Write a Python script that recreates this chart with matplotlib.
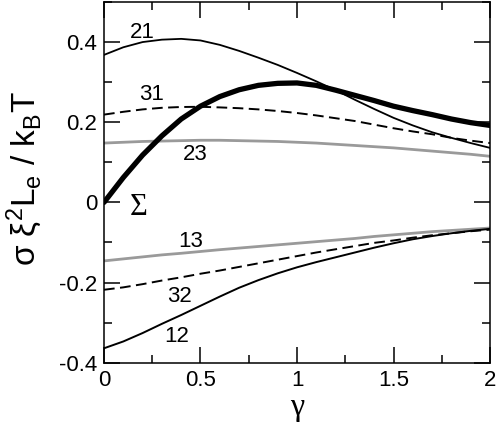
import matplotlib
matplotlib.use("Agg")
import matplotlib.pyplot as plt
from matplotlib.ticker import MultipleLocator

plt.rcParams['font.family'] = ['Liberation Sans', 'DejaVu Sans']
plt.rcParams['mathtext.fontset'] = 'custom'
plt.rcParams['mathtext.rm'] = 'Liberation Sans'
plt.rcParams['mathtext.it'] = 'Liberation Sans'

gamma = [0.0, 0.1, 0.2, 0.3, 0.4, 0.5, 0.6, 0.7, 0.8, 0.9, 1.0,
         1.1, 1.2, 1.3, 1.4, 1.5, 1.6, 1.7, 1.8, 1.9, 2.0]

s21 = [0.368, 0.387, 0.400, 0.406, 0.408, 0.404, 0.393, 0.378, 0.361, 0.343, 0.323,
       0.302, 0.280, 0.256, 0.233, 0.211, 0.192, 0.175, 0.161, 0.148, 0.136]
s31 = [0.219, 0.226, 0.232, 0.236, 0.238, 0.2385, 0.237, 0.235, 0.232, 0.228, 0.223,
       0.217, 0.210, 0.203, 0.194, 0.185, 0.177, 0.170, 0.161, 0.154, 0.148]
s23 = [0.148, 0.150, 0.152, 0.153, 0.154, 0.155, 0.155, 0.154, 0.153, 0.152, 0.150,
       0.148, 0.145, 0.142, 0.139, 0.136, 0.132, 0.128, 0.124, 0.120, 0.115]
sSigma = [0.0, 0.062, 0.118, 0.166, 0.208, 0.240, 0.264, 0.281, 0.292, 0.297, 0.298,
          0.292, 0.280, 0.267, 0.254, 0.240, 0.229, 0.219, 0.208, 0.199, 0.192]
s13 = [-0.146, -0.141, -0.136, -0.131, -0.127, -0.1225, -0.118, -0.114, -0.110, -0.106, -0.102,
       -0.098, -0.094, -0.090, -0.085, -0.081, -0.077, -0.073, -0.070, -0.067, -0.064]
s32 = [-0.218, -0.212, -0.204, -0.195, -0.187, -0.178, -0.170, -0.161, -0.152, -0.143, -0.134,
       -0.125, -0.117, -0.109, -0.101, -0.095, -0.088, -0.082, -0.077, -0.072, -0.068]
s12 = [-0.364, -0.347, -0.326, -0.303, -0.281, -0.258, -0.235, -0.213, -0.194, -0.177, -0.162,
       -0.149, -0.137, -0.125, -0.113, -0.102, -0.092, -0.084, -0.077, -0.071, -0.066]

labels = ["21", "31", "23", "13", "32", "12"]
label_x = [0.196, 0.248, 0.473, 0.45, 0.39, 0.377]
label_y = [0.423, 0.269, 0.120, -0.0975, -0.235, -0.335]

fig = plt.figure(figsize=(4.99, 4.22), dpi=100)
ax = fig.add_axes([0.2084, 0.1405, 0.7736, 0.8548])

ax.plot(gamma, s23, color='#9a9a9a', lw=2.0, solid_capstyle='butt')
ax.plot(gamma, s13, color='#9a9a9a', lw=2.0, solid_capstyle='butt')
ax.plot(gamma, s31, color='black', lw=1.4, dashes=(5.5, 2.8))
ax.plot(gamma, s32, color='black', lw=1.4, dashes=(5.5, 2.8))
ax.plot(gamma, s21, color='black', lw=1.3)
ax.plot(gamma, s12, color='black', lw=1.4)
ax.plot(gamma, sSigma, color='black', lw=3.8, solid_capstyle='round',
        solid_joinstyle='round')

for t, x, y in zip(labels, label_x, label_y):
    ax.text(x, y, t, fontsize=16, ha='center', va='center')
ax.text(0.178, -0.012, "Σ", fontsize=22, ha='center', va='center',
        family=['Liberation Serif', 'DejaVu Serif'])

ax.set_xlim(0, 2)
ax.set_ylim(-0.4, 0.5)
ax.xaxis.set_major_locator(MultipleLocator(0.5))
ax.xaxis.set_minor_locator(MultipleLocator(0.25))
ax.yaxis.set_major_locator(MultipleLocator(0.2))
ax.yaxis.set_minor_locator(MultipleLocator(0.1))
ax.set_xticks([0, 0.5, 1, 1.5, 2])
ax.set_xticklabels(["0", "0.5", "1", "1.5", "2"])
ax.set_yticks([-0.4, -0.2, 0, 0.2, 0.4])
ax.set_yticklabels(["-0.4", "-0.2", "0", "0.2", "0.4"])

ax.tick_params(which='both', direction='in', top=True, right=True, width=1.1, labelsize=16)
ax.tick_params(which='major', length=11.5, pad=5)
ax.tick_params(which='minor', length=6)
for sp in ax.spines.values():
    sp.set_linewidth(1.1)

ax.set_xlabel("γ", fontsize=23, family=['Liberation Serif', 'DejaVu Serif'])
ax.xaxis.set_label_coords(0.5, -0.085)
ax.xaxis.label.set_va('top')
ax.set_ylabel(r'$\mathrm{\sigma\ \xi^2L_e\ /\ k_BT}$', fontsize=24)
ax.yaxis.set_label_coords(-0.155, 0.51)

fig.savefig("out.png", dpi=100)
